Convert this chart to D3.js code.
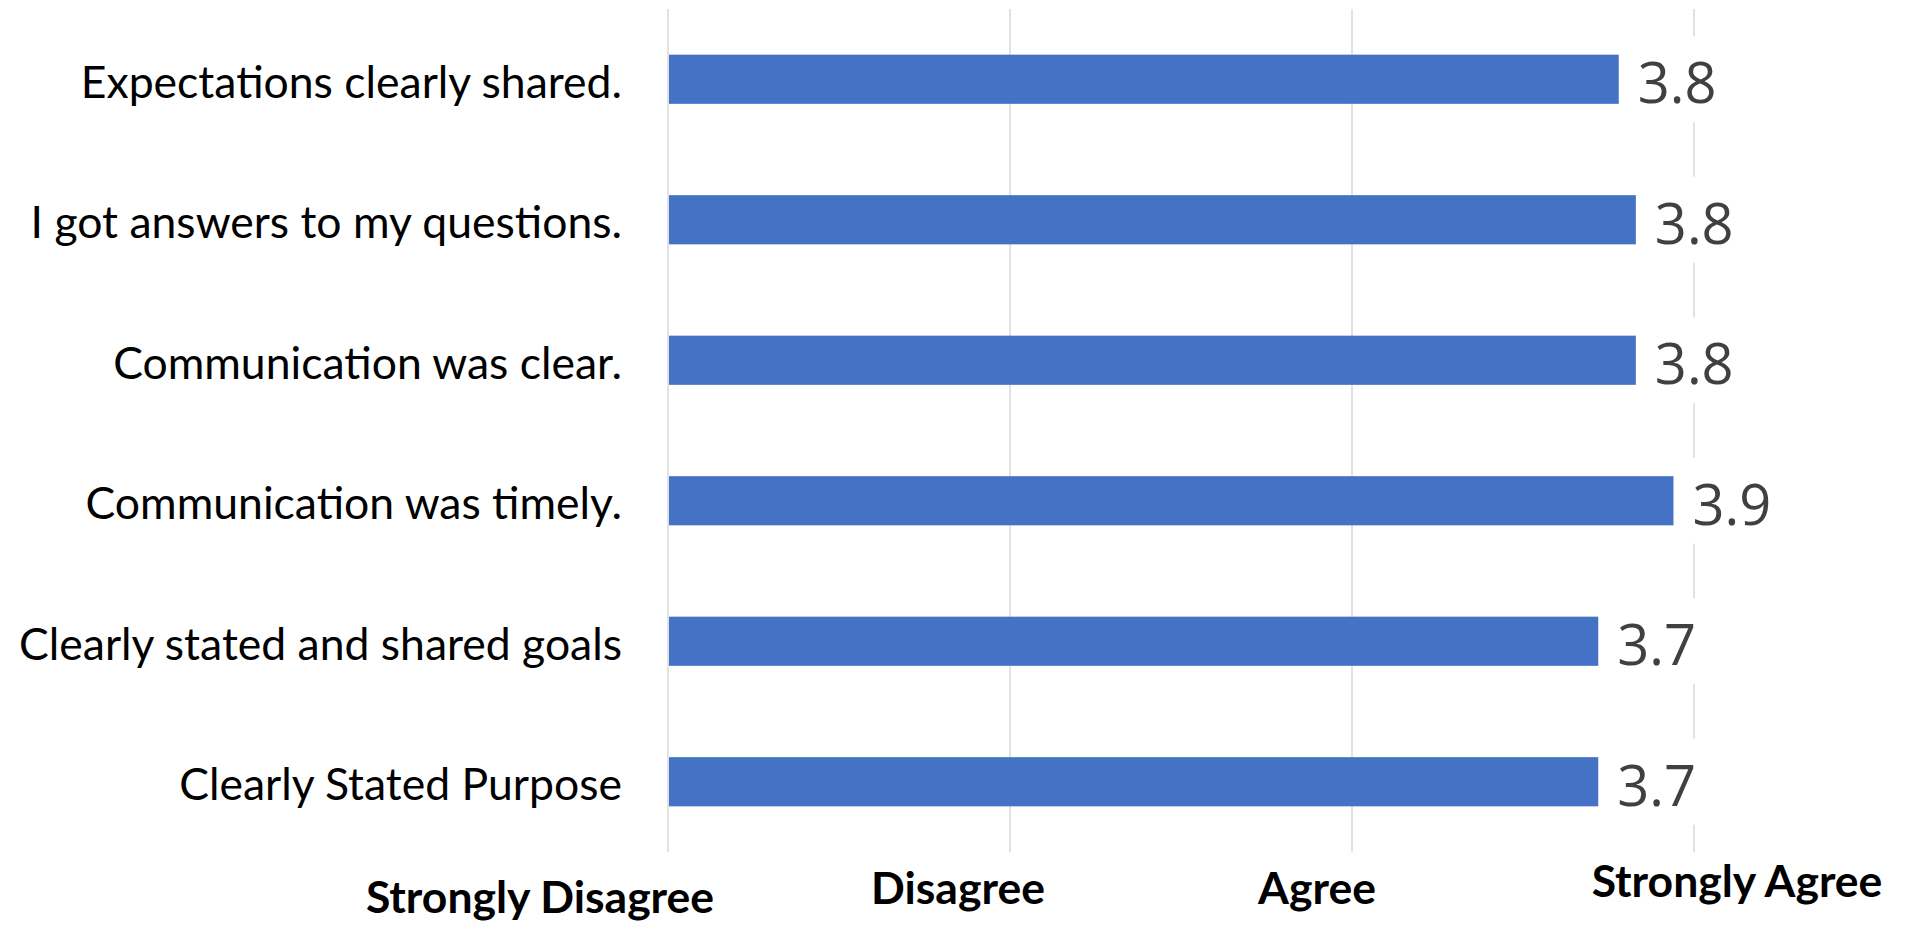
<!DOCTYPE html>
<html>
<head>
<meta charset="utf-8">
<script src="https://cdn.jsdelivr.net/npm/d3@7/dist/d3.min.js"></script>
<style>
  html, body { margin: 0; padding: 0; background: #ffffff; }
  svg { display: block; }
</style>
</head>
<body>
<svg id="chart" width="1916" height="925"></svg>
<script>
// ---- data ----
const categories = [
  "Expectations clearly shared.",
  "I got answers to my questions.",
  "Communication was clear.",
  "Communication was timely.",
  "Clearly stated and shared goals",
  "Clearly Stated Purpose"
];
const values = [3.78, 3.83, 3.83, 3.94, 3.72, 3.72];
const valueLabels = ["3.8", "3.8", "3.8", "3.9", "3.7", "3.7"];
const tickValues = [1, 2, 3, 4];
const tickLabels = ["Strongly Disagree", "Disagree", "Agree", "Strongly Agree"];

// ---- layout ----
const W = 1916, H = 925;
const plot = { left: 668, right: 1694, top: 9, bottom: 852 };
// manual placement of the scale text boxes relative to their gridline
const tickNudge = [[-128, 913], [-52, 904], [-35, 904], [43, 897]];

const svg = d3.select("#chart");

const x = d3.scaleLinear().domain([1, 4]).range([plot.left, plot.right]);
const y = d3.scaleBand().domain(categories).range([plot.top, plot.bottom])
  .paddingInner(0.65).paddingOuter(0.325);

// gridlines
svg.append("g").selectAll("line").data(tickValues).join("line")
  .attr("x1", d => x(d)).attr("x2", d => x(d))
  .attr("y1", plot.top).attr("y2", plot.bottom)
  .attr("stroke", "#d9d9d9").attr("stroke-width", 1.5);

// bars
svg.append("g").selectAll("rect").data(categories).join("rect")
  .attr("x", x(1) + 1)
  .attr("y", d => y(d))
  .attr("width", (d, i) => x(values[i]) - x(1) - 1)
  .attr("height", y.bandwidth())
  .attr("fill", "#4472C4");

// value labels with white boxes
const vl = svg.append("g").selectAll("g").data(categories).join("g");
vl.append("rect")
  .attr("x", (d, i) => x(values[i]) + 10)
  .attr("y", d => y(d) + y.bandwidth() / 2 - 43)
  .attr("width", 96).attr("height", 86)
  .attr("fill", "#ffffff");
vl.append("text")
  .attr("x", (d, i) => x(values[i]) + 19)
  .attr("y", d => y(d) + y.bandwidth() / 2 + 2)
  .attr("dominant-baseline", "central")
  .attr("font-family", "'Open Sans', sans-serif")
  .attr("font-size", 56)
  .attr("fill", "#404040")
  .text((d, i) => valueLabels[i]);

// category labels
svg.append("g").selectAll("text").data(categories).join("text")
  .attr("x", 622)
  .attr("y", d => y(d) + y.bandwidth() / 2 + 1)
  .attr("text-anchor", "end")
  .attr("dominant-baseline", "central")
  .attr("font-family", "Lato, sans-serif")
  .attr("font-size", 44.5)
  .attr("fill", "#000000")
  .text(d => d);

// scale labels
svg.append("g").selectAll("text").data(tickValues).join("text")
  .attr("x", (d, i) => x(d) + tickNudge[i][0])
  .attr("y", (d, i) => tickNudge[i][1])
  .attr("text-anchor", "middle")
  .attr("font-family", "Lato, sans-serif")
  .attr("font-weight", "bold")
  .attr("font-size", 44.5)
  .attr("fill", "#000000")
  .text((d, i) => tickLabels[i]);
</script>
</body>
</html>
